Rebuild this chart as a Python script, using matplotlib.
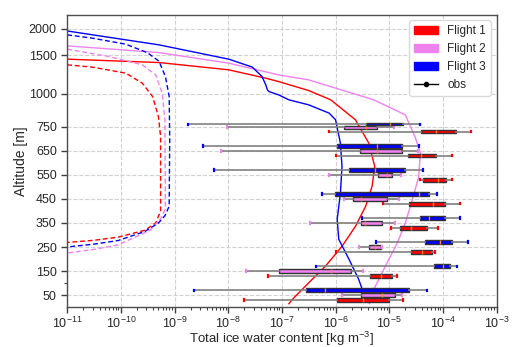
import numpy as np
import matplotlib
matplotlib.use("Agg")
import matplotlib.pyplot as plt
from matplotlib.patches import Patch
from matplotlib.lines import Line2D
from matplotlib.ticker import FixedLocator, LogLocator, NullFormatter

plt.rcParams['font.family'] = ['Liberation Sans', 'DejaVu Sans']
plt.rcParams['mathtext.fontset'] = 'custom'
plt.rcParams['mathtext.rm'] = 'Liberation Sans'
plt.rcParams['mathtext.it'] = 'Liberation Sans:italic'
plt.rcParams['mathtext.bf'] = 'Liberation Sans:bold'

# ---------------- data ----------------
flights = ["Flight 1", "Flight 2", "Flight 3"]
flight_colors = ["red", "violet", "blue"]
bins = [50, 150, 250, 350, 450, 550, 650, 750]

# box statistics in log10(kg m^-3): [whislo, q1, median, q3, whishi] per altitude bin
f1_stats = [[-7.70, -5.97, -5.49, -5.01, -4.75],
            [-7.25, -5.36, -5.16, -4.94, -4.85],
            [-6.00, -4.59, -4.39, -4.21, -4.14],
            [-4.96, -4.80, -4.60, -4.29, -4.09],
            [-5.12, -4.63, -4.18, -3.96, -3.69],
            [-4.43, -4.37, -4.10, -3.94, -3.83],
            [-6.00, -4.65, -4.40, -4.12, -3.83],
            [-6.12, -4.40, -4.12, -3.76, -3.48]]
f2_stats = [[-5.88, -5.52, -5.14, -4.89, -4.76],
            [-7.66, -7.06, -6.08, -5.71, -5.48],
            [-5.57, -5.37, -5.27, -5.16, -5.14],
            [-6.48, -5.53, -5.45, -5.14, -4.89],
            [-5.85, -5.68, -5.52, -5.04, -4.82],
            [-6.12, -5.21, -5.04, -4.94, -4.78],
            [-8.13, -5.55, -5.22, -4.76, -4.46],
            [-8.02, -5.84, -5.44, -5.22, -4.91]]
f3_stats = [[-8.63, -6.55, -6.20, -4.64, -4.29],
            [-6.37, -4.17, -4.00, -3.86, -3.73],
            [-5.24, -4.34, -4.06, -3.83, -3.53],
            [-5.50, -4.43, -4.25, -3.96, -3.69],
            [-6.26, -6.01, -4.45, -4.25, -4.11],
            [-8.27, -5.75, -5.27, -4.70, -4.37],
            [-8.47, -5.97, -5.22, -4.77, -4.45],
            [-8.75, -5.43, -4.98, -4.75, -4.42]]
all_stats = [f1_stats, f2_stats, f3_stats]

# model profiles: altitude [m] and log10 ice water content
f1_total_alt = [1448, 1404, 1309, 1200, 1156, 1039, 953, 803, 682, 585, 502, 419, 336, 253, 170, 101, 31, 14]
f1_total_log = [-11.0, -9.29, -7.99, -7.30, -7.06, -6.50, -6.09, -5.63, -5.38, -5.27, -5.32, -5.44, -5.63, -5.88, -6.19, -6.50, -6.81, -6.87]
f2_total_alt = [1677, 1549, 1396, 1243, 1178, 953, 840, 703, 641, 543, 446, 350, 267, 184, 73, 15]
f2_total_log = [-11.0, -9.29, -7.99, -7.06, -6.50, -5.29, -4.70, -4.51, -4.42, -4.45, -4.57, -4.70, -4.85, -5.04, -5.29, -5.37]
f3_total_alt = [1960, 1696, 1448, 1344, 1221, 1113, 1048, 1026, 990, 953, 915, 853, 803, 682, 585, 474, 365, 282, 199, 116, 66, 20]
f3_total_log = [-11.0, -9.29, -7.99, -7.55, -7.37, -7.30, -7.27, -7.24, -7.06, -6.87, -6.50, -6.12, -6.00, -5.91, -5.88, -5.91, -5.97, -5.94, -5.75, -5.57, -5.49, -5.45]

f1_dash_alt = [1374, 1344, 1266, 1135, 978, 827, 710, 400, 350, 320, 291, 278, 269]
f1_dash_log = [-11.0, -10.53, -9.91, -9.60, -9.41, -9.30, -9.26, -9.26, -9.35, -9.55, -10.05, -10.5, -11.0]
f2_dash_alt = [1614, 1482, 1374, 1243, 1005, 803, 410, 370, 320, 259, 240, 225]
f2_dash_log = [-11.0, -10.22, -9.60, -9.35, -9.23, -9.18, -9.17, -9.25, -9.45, -10.05, -10.5, -11.0]
f3_dash_alt = [1886, 1823, 1709, 1549, 1422, 1221, 978, 696, 420, 380, 350, 315, 277, 262, 250]
f3_dash_log = [-11.0, -10.53, -9.91, -9.51, -9.29, -9.17, -9.10, -9.09, -9.10, -9.18, -9.30, -9.55, -10.05, -10.5, -11.0]

y_ticks = [50, 150, 250, 350, 450, 550, 650, 750, 1000, 1500, 2000]
y_minor = [100]

# ---------------- altitude axis scale (stretched lower levels) ----------------
ALT_K = np.array([0.0, 750.0, 1000.0, 1500.0, 2000.0, 2350.0])
U_K = np.array([0.0, 180.3, 213.6, 252.0, 278.3, 292.6])
s0 = (U_K[1] - U_K[0]) / (ALT_K[1] - ALT_K[0])
s1 = (U_K[-1] - U_K[-2]) / (ALT_K[-1] - ALT_K[-2])

def fwd(z):
    z = np.asarray(z, dtype=float)
    u = np.interp(z, ALT_K, U_K)
    u = np.where(z < ALT_K[0], U_K[0] + (z - ALT_K[0]) * s0, u)
    u = np.where(z > ALT_K[-1], U_K[-1] + (z - ALT_K[-1]) * s1, u)
    return u

def inv(u):
    u = np.asarray(u, dtype=float)
    z = np.interp(u, U_K, ALT_K)
    z = np.where(u < U_K[0], ALT_K[0] + (u - U_K[0]) / s0, z)
    z = np.where(u > U_K[-1], ALT_K[-1] + (u - U_K[-1]) / s1, z)
    return z

# ---------------- figure ----------------
fig = plt.figure(figsize=(5.13, 3.47), dpi=100)
ax = fig.add_axes([0.131, 0.115, 0.837, 0.843])
ax.set_yscale('function', functions=(fwd, inv))
ax.set_xscale('log')

ax.grid(True, which='major', linestyle='--', color='0.82', linewidth=0.8)
ax.set_axisbelow(True)

totals = [(f1_total_alt, f1_total_log), (f2_total_alt, f2_total_log), (f3_total_alt, f3_total_log)]
dashes = [(f1_dash_alt, f1_dash_log), (f2_dash_alt, f2_dash_log), (f3_dash_alt, f3_dash_log)]
for (ta, tl), (da, dl), c in zip(totals, dashes, flight_colors):
    ax.plot(10.0 ** np.array(tl), ta, color=c, lw=1.0, zorder=2)
    ax.plot(10.0 ** np.array(dl), da, color=c, lw=1.0, ls=(0, (3.5, 2)), zorder=2)

offsets = [-20, 0, 20]
for stats_f, c, off in zip(all_stats, flight_colors, offsets):
    st = []
    for row in stats_f:
        v = 10.0 ** np.array(row)
        st.append(dict(whislo=v[0], q1=v[1], med=v[2], q3=v[3], whishi=v[4], fliers=[]))
    ax.bxp(st, positions=[b + off for b in bins], widths=15, orientation='horizontal',
           patch_artist=True, showfliers=False, manage_ticks=False, capwidths=6,
           boxprops=dict(facecolor=c, edgecolor='0.2', linewidth=1.0),
           medianprops=dict(color='#ff8c1a', linewidth=1.0),
           whiskerprops=dict(color='0.5', linewidth=1.2),
           capprops=dict(color=c, linewidth=1.6), zorder=3)

ax.set_xlim(1e-11, 1e-3)
ax.set_ylim(0, 2350)
ax.yaxis.set_major_locator(FixedLocator(y_ticks))
ax.yaxis.set_minor_locator(FixedLocator(y_minor))
ax.set_yticklabels([str(t) for t in y_ticks])
ax.xaxis.set_major_locator(LogLocator(base=10, numticks=20))
ax.xaxis.set_minor_locator(LogLocator(base=10, subs=np.arange(2, 10), numticks=100))
ax.xaxis.set_minor_formatter(NullFormatter())

ax.tick_params(axis='both', which='major', labelsize=9, length=4, width=1, color='0.25', labelcolor='0.15')
ax.tick_params(axis='x', which='major', pad=2)
ax.tick_params(axis='both', which='minor', length=2.5, width=0.8, color='0.25')
for sp in ax.spines.values():
    sp.set_color('0.3')
    sp.set_linewidth(1.0)

ax.set_xlabel(r'Total ice water content [kg m$^{-3}$]', fontsize=9.5, color='0.15')
ax.xaxis.set_label_coords(0.5, -0.078)
ax.set_ylabel('Altitude [m]', fontsize=10, color='0.15')
ax.yaxis.set_label_coords(-0.092, 0.5)

handles = [Patch(facecolor=c, edgecolor=c, label=f) for f, c in zip(flights, flight_colors)]
handles.append(Line2D([], [], color='black', marker='o', markersize=3, lw=1, label='obs'))
leg = ax.legend(handles=handles, loc='upper right', fontsize=8.5, frameon=True, fancybox=True,
                edgecolor='0.85', framealpha=1.0, borderaxespad=0.5)
for t in leg.get_texts():
    t.set_color('0.15')

fig.savefig('out.png', dpi=100)
